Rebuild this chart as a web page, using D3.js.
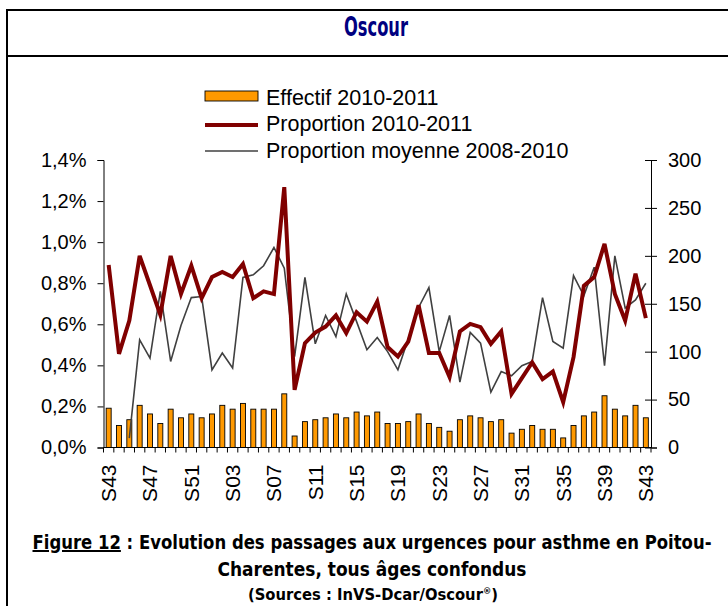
<!DOCTYPE html>
<html>
<head>
<meta charset="utf-8">
<script src="https://cdnjs.cloudflare.com/ajax/libs/d3/7.8.5/d3.min.js"></script>
<style>
  body { margin: 0; background: #fff; }
  svg { display: block; }
</style>
</head>
<body>
<svg width="728" height="606"></svg>
<script>
var semaines = ["S43","S44","S45","S46","S47","S48","S49","S50","S51","S52",
	"S01","S02","S03","S04","S05","S06","S07","S08","S09","S10",
	"S11","S12","S13","S14","S15","S16","S17","S18","S19","S20",
	"S21","S22","S23","S24","S25","S26","S27","S28","S29","S30",
	"S31","S32","S33","S34","S35","S36","S37","S38","S39","S40",
	"S41","S42","S43"];

// effectif 2010-2011 (axe de droite)
var effectif = [41,23,29,44,35,25,40,31,35,31,
	35,44,40,46,40,40,40,56,12,27,
	29,31,35,31,37,33,37,25,25,27,
	35,25,21,17,29,33,31,27,29,15,
	19,23,19,19,10,23,33,37,54,40,
	33,44,31];

// proportion 2010-2011 (%)
var proportion = [0.889,0.456,0.618,0.933,0.79,0.646,0.933,0.748,0.885,0.727,
	0.83,0.855,0.83,0.894,0.727,0.76,0.747,1.268,0.281,0.508,
	0.56,0.589,0.643,0.557,0.659,0.613,0.711,0.489,0.443,0.516,
	0.693,0.46,0.46,0.343,0.565,0.602,0.586,0.505,0.565,0.261,
	0.338,0.414,0.333,0.37,0.221,0.44,0.787,0.83,0.992,0.748,
	0.618,0.846,0.63];

// proportion moyenne 2008-2010 (%)
var moyenne = [null,null,0.046,0.524,0.435,0.76,0.419,0.594,0.73,0.735,
	0.378,0.46,0.387,0.828,0.841,0.885,0.974,0.873,0.443,0.828,
	0.505,0.643,0.54,0.748,0.613,0.476,0.536,0.467,0.378,0.528,
	0.682,0.779,0.467,0.643,0.318,0.56,0.508,0.27,0.37,0.349,
	0.398,0.419,0.73,0.516,0.484,0.837,0.739,0.878,0.398,0.933,
	0.679,0.719,0.80];

var ticksGauche = [0,0.2,0.4,0.6,0.8,1.0,1.2,1.4];
var ticksDroite = [0,50,100,150,200,250,300];
var legende = ["Effectif 2010-2011", "Proportion 2010-2011", "Proportion moyenne 2008-2010"];

var svg = d3.select('svg'),
	font = '"Liberation Sans", Arial, sans-serif',
	narrow = '"Liberation Sans Narrow", "DejaVu Sans Condensed", "Roboto", sans-serif';

var gauche = 103.5, droite = 651, haut = 160, bas = 447.5;

/*
	cadre
*/
svg.append('path').attr('d', 'M7,606 V10 H728 M7,56 H728')
	.style('fill', 'none').style('stroke', '#000').style('stroke-width', 2);

svg.append('text').attr('x', 376).attr('y', 36).attr('text-anchor', 'middle')
	.attr('textLength', 64).attr('lengthAdjust', 'spacingAndGlyphs')
	.style('font-family', narrow).style('font-weight', 'bold').style('font-size', '27px')
	.style('fill', '#000080').text('Oscour');

/*
	scales
*/
var x = d3.scaleBand().domain(d3.range(semaines.length)).range([gauche, droite]).paddingInner(0).paddingOuter(0);
var yL = d3.scaleLinear().domain([0, 1.4]).range([bas, haut]);
var yR = d3.scaleLinear().domain([0, 300]).range([bas, haut]);

/*
	barres
*/
var bw = 5;
svg.append('g').selectAll('rect').data(effectif).enter().append('rect')
	.attr('x', function (d, i) { return x(i) + (x.bandwidth() - bw) / 2; })
	.attr('y', function (d) { return yR(d); })
	.attr('width', bw)
	.attr('height', function (d) { return yR(0) - yR(d); })
	.style('fill', '#FF9900').style('stroke', '#000').style('stroke-width', 0.9);

/*
	lignes
*/
var ligne = d3.line()
	.defined(function (d) { return d != null; })
	.x(function (d, i) { return x(i) + x.bandwidth() / 2; })
	.y(function (d) { return yL(d); });

svg.append('path').datum(moyenne).attr('d', ligne)
	.style('fill', 'none').style('stroke', '#404040').style('stroke-width', 1.6);

svg.append('path').datum(proportion).attr('d', ligne)
	.style('fill', 'none').style('stroke', '#800000').style('stroke-width', 4)
	.style('stroke-linejoin', 'miter');

/*
	axes
*/
var axeG = svg.append('g').attr('transform', 'translate(' + gauche + ',0)')
	.call(d3.axisLeft(yL).tickValues(ticksGauche).tickSizeOuter(0).tickSize(6).tickPadding(11)
		.tickFormat(function (d) { return d.toFixed(1).replace('.', ',') + '%'; }));

var axeD = svg.append('g').attr('transform', 'translate(' + droite + ',0)')
	.call(d3.axisRight(yR).tickValues(ticksDroite).tickSizeOuter(0).tickSize(6).tickPadding(11));
axeD.selectAll('.tick line').attr('x1', -6);

[axeG, axeD].forEach(function (a) {
	a.selectAll('text').style('font-family', font).style('font-size', '20px').style('fill', '#000');
	a.selectAll('line, path').style('stroke', '#000');
});

var axeX = svg.append('g');
axeX.append('line').attr('x1', gauche).attr('x2', droite).attr('y1', bas).attr('y2', bas)
	.style('stroke', '#000');
axeX.selectAll('.tk').data(d3.range(semaines.length + 1)).enter().append('line')
	.attr('x1', function (i) { return i < semaines.length ? x(i) : droite; })
	.attr('x2', function (i) { return i < semaines.length ? x(i) : droite; })
	.attr('y1', bas).attr('y2', bas + 5)
	.style('stroke', '#000');
axeX.selectAll('text').data(d3.range(0, semaines.length, 4)).enter().append('text')
	.attr('transform', function (i) {
		return 'translate(' + (x(i) + x.bandwidth() / 2) + ',' + (bas + 17) + ') rotate(-90)';
	})
	.attr('text-anchor', 'end').attr('dy', '0.35em')
	.style('font-family', font).style('font-size', '21px')
	.text(function (i) { return semaines[i]; });

/*
	legende
*/
var leg = svg.append('g');
leg.append('rect').attr('x', 205).attr('y', 91).attr('width', 53).attr('height', 10)
	.style('fill', '#FF9900').style('stroke', '#000').style('stroke-width', 0.9);
leg.append('line').attr('x1', 205).attr('x2', 258).attr('y1', 125).attr('y2', 125)
	.style('stroke', '#800000').style('stroke-width', 4);
leg.append('line').attr('x1', 205).attr('x2', 258).attr('y1', 151).attr('y2', 151)
	.style('stroke', '#404040').style('stroke-width', 1.6);
leg.selectAll('text').data(legende).enter().append('text')
	.attr('x', 266).attr('y', function (d, i) { return 104.5 + i * 26.5; })
	.style('font-family', font).style('font-size', '21.5px').text(function (d) { return d; });

/*
	legende de la figure
*/
var cap = svg.append('g').style('font-family', narrow).style('font-weight', 'bold');
var l1 = cap.append('text').attr('x', 372).attr('y', 549).attr('text-anchor', 'middle')
	.attr('textLength', 679).attr('lengthAdjust', 'spacingAndGlyphs').style('font-size', '20px');
l1.append('tspan').style('text-decoration', 'underline').text('Figure 12');
l1.append('tspan').text(' : Evolution des passages aux urgences pour asthme en Poitou-');

cap.append('text').attr('x', 372).attr('y', 576).attr('text-anchor', 'middle')
	.attr('textLength', 309).attr('lengthAdjust', 'spacingAndGlyphs').style('font-size', '20px')
	.text('Charentes, tous âges confondus');

var l3 = cap.append('text').attr('x', 373).attr('y', 600).attr('text-anchor', 'middle')
	.attr('textLength', 250).attr('lengthAdjust', 'spacingAndGlyphs')
	.style('font-size', '16px');
l3.append('tspan').text('(Sources : InVS-Dcar/Oscour');
l3.append('tspan').attr('dy', -6).style('font-size', '9px').text('®');
l3.append('tspan').attr('dy', 6).text(')');
</script>
</body>
</html>
